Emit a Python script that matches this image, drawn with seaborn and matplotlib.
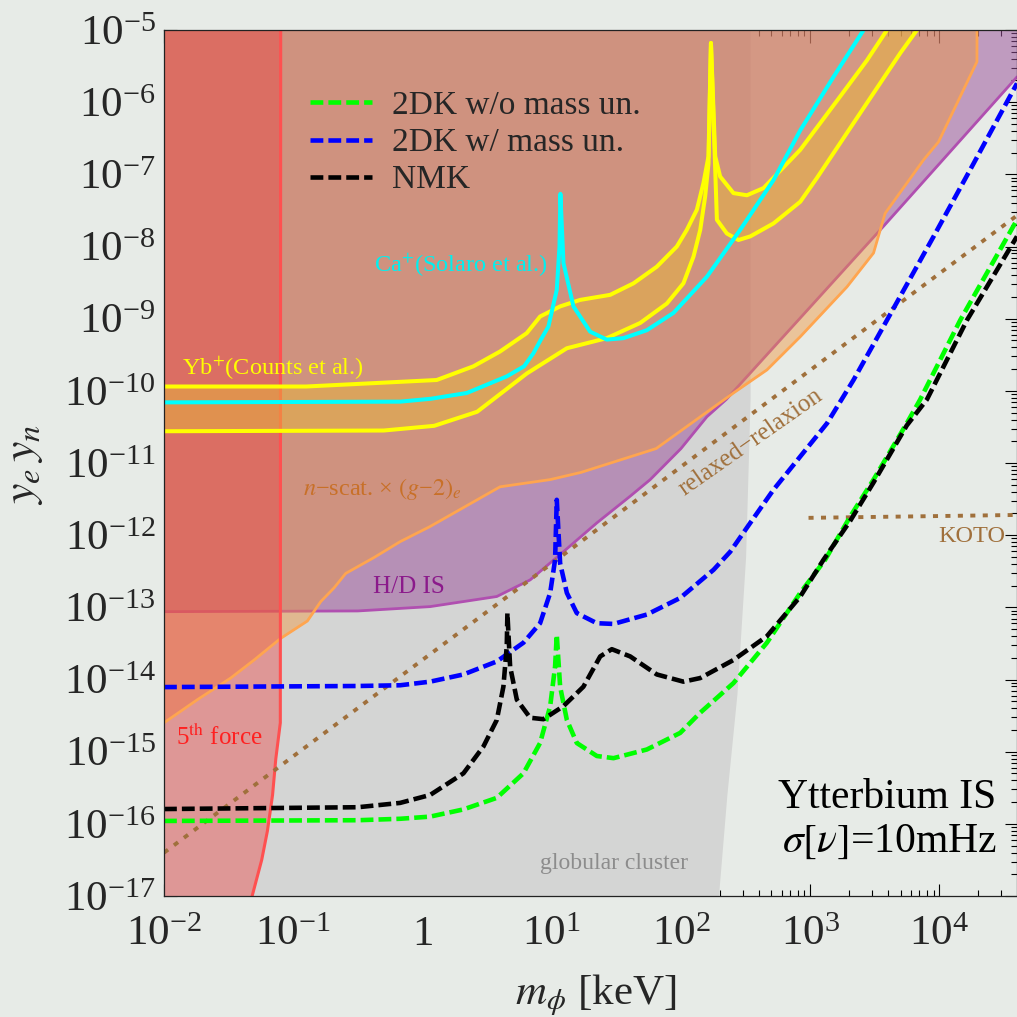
import numpy as np
import pandas as pd
import matplotlib
matplotlib.use("Agg")
import matplotlib.pyplot as plt
import seaborn as sns
from matplotlib.lines import Line2D
from matplotlib.ticker import FixedLocator, FuncFormatter, LogLocator, NullFormatter

# ---------------- data (log10 values) ----------------
# globular cluster boundary (mass as function of coupling)
gc_log_y = [-5.0, -10.1, -12.3, -14.2, -15.6, -17.0]
gc_log_m = [2.535, 2.535, 2.50, 2.433, 2.355, 2.29]

# 5th force boundary
f5_log_y = [-5.0, -14.6, -15.1, -15.6, -16.1, -16.5, -17.0]
f5_log_m = [-1.097, -1.10, -1.135, -1.16, -1.20, -1.244, -1.318]

# H/D isotope shift
hd_log_m = [-2.0, -0.5, 0.059, 0.575, 0.833, 1.09, 1.349, 1.607, 1.762, 2.0, 2.2, 2.35, 3.567, 4.6]
hd_log_y = [-13.06, -13.05, -12.99, -12.85, -12.62, -12.23, -11.83, -11.46, -11.23, -10.8, -10.36,
            -10.12, -7.72, -5.65]

# n-scattering x (g-2)_e
ns_log_m = [-2.0, -1.742, -1.484, -1.303, -1.097, -0.891, -0.787, -0.684, -0.594, -0.375, -0.173,
            0.059, 0.60, 0.988, 1.227, 1.808, 2.406, 2.665, 2.923, 3.284, 3.49, 3.542, 3.58,
            3.877, 3.993, 4.29, 4.291]
ns_log_y = [-14.60, -14.28, -13.98, -13.73, -13.43, -13.19, -12.92, -12.73, -12.53, -12.31, -12.09,
            -11.88, -11.33, -11.23, -11.13, -10.80, -10.03, -9.71, -9.25, -8.56, -8.09, -7.77,
            -7.54, -6.80, -6.55, -5.44, -5.0]

# Yb+ (Counts et al.) band
yu_log_m = [-2.0, -0.9, 0.11, 0.394, 0.60, 0.807, 0.91, 1.065, 1.22, 1.452, 1.633, 1.813, 1.968,
            2.045, 2.123, 2.174, 2.213, 2.232, 2.265, 2.303, 2.406, 2.51, 2.639, 2.923, 3.232,
            3.439, 3.594]
yu_log_y = [-9.94, -9.94, -9.85, -9.66, -9.455, -9.20, -8.97, -8.83, -8.74, -8.67, -8.51, -8.28,
            -8.0, -7.77, -7.49, -7.12, -6.75, -5.18, -6.75, -7.03, -7.26, -7.29, -7.19, -6.66,
            -5.92, -5.42, -5.0]
yl_log_m = [-2.0, -0.3, 0.09, 0.423, 0.807, 1.117, 1.426, 1.684, 1.891, 2.019, 2.097, 2.149, 2.187,
            2.213, 2.232, 2.278, 2.355, 2.445, 2.536, 2.716, 2.923, 3.052, 3.335, 3.697, 3.826]
yl_log_y = [-10.56, -10.55, -10.485, -10.29, -9.76, -9.41, -9.27, -9.06, -8.79, -8.51, -8.14,
            -7.77, -7.31, -6.85, -5.18, -7.63, -7.82, -7.91, -7.86, -7.68, -7.38, -7.05, -6.29,
            -5.32, -5.0]

# Ca+ (Solaro et al.)
cy_log_m = [-2.0, -0.173, 0.064, 0.343, 0.652, 0.786, 0.858, 0.916, 0.974, 1.039, 1.06, 1.067,
            1.091, 1.168, 1.297, 1.426, 1.555, 1.736, 1.942, 2.20, 2.458, 2.716, 2.923, 3.18, 3.413]
cy_log_y = [-10.16, -10.15, -10.11, -10.03, -9.80, -9.66, -9.48, -9.29, -9.11, -8.60, -8.0, -7.27,
            -8.23, -8.83, -9.18, -9.29, -9.27, -9.16, -8.92, -8.42, -7.77, -7.08, -6.39, -5.65, -5.0]

# 2DK w/ mass uncertainty (blue)
bl_log_m = [-2.0, -0.5, -0.173, 0.059, 0.317, 0.575, 0.781, 0.91, 0.988, 1.026, 1.039, 1.065,
            1.117, 1.194, 1.349, 1.478, 1.736, 1.994, 2.252, 2.381, 2.536, 2.716, 2.923, 3.13,
            3.335, 3.594, 3.955, 4.264, 4.6]
bl_log_y = [-14.105, -14.09, -14.08, -14.03, -13.93, -13.75, -13.49, -13.22, -12.80, -12.34,
            -11.51, -12.39, -12.80, -13.08, -13.22, -13.23, -13.10, -12.87, -12.48, -12.23,
            -11.83, -11.37, -10.91, -10.45, -9.85, -9.02, -7.86, -6.85, -5.74]

# 2DK w/o mass uncertainty (green)
gr_log_m = [-2.0, -0.5, -0.173, 0.059, 0.317, 0.575, 0.781, 0.91, 0.988, 1.026, 1.039, 1.065,
            1.117, 1.194, 1.349, 1.478, 1.736, 1.994, 2.149, 2.406, 2.665, 2.923, 3.116, 3.31,
            3.49, 3.747, 3.851, 4.161, 4.6]
gr_log_y = [-15.96, -15.95, -15.93, -15.90, -15.80, -15.64, -15.30, -14.88, -14.37, -13.82,
            -13.38, -14.10, -14.56, -14.88, -15.06, -15.09, -14.97, -14.74, -14.46, -14.05,
            -13.49, -12.80, -12.34, -11.74, -11.23, -10.45, -10.12, -9.02, -7.63]

# NMK (black)
bk_log_m = [-2.0, -0.5, -0.173, 0.059, 0.317, 0.471, 0.575, 0.626, 0.652, 0.657, 0.678, 0.73,
            0.833, 0.936, 1.09, 1.245, 1.375, 1.465, 1.607, 1.813, 2.019, 2.149, 2.406, 2.665,
            2.923, 3.103, 3.31, 3.49, 3.747, 3.903, 4.213, 4.6]
bk_log_y = [-15.795, -15.77, -15.71, -15.60, -15.30, -14.93, -14.56, -14.10, -13.54, -13.08,
            -13.82, -14.28, -14.53, -14.55, -14.37, -14.10, -13.68, -13.58, -13.68, -13.93,
            -14.03, -13.98, -13.73, -13.40, -12.85, -12.34, -11.80, -11.27, -10.48, -10.12,
            -9.02, -7.86]

# relaxed-relaxion and KOTO (dotted)
rx_log_m = [-2.0, 1.039, 4.6]
rx_log_y = [-16.40, -12.34, -7.57]
ko_log_m = [2.987, 4.6]
ko_log_y = [-11.76, -11.72]

x_ticks = [1e-2, 1e-1, 1e0, 1e1, 1e2, 1e3, 1e4]
y_ticks = [10.0 ** e for e in range(-17, -4)]
legend_labels = ["2DK w/o mass un.", "2DK w/ mass un.", "NMK"]

# ---------------- style ----------------
sns.set_theme(style="ticks")
BG = "#e7ebe7"
plt.rcParams["font.family"] = ["Liberation Serif", "DejaVu Serif"]
plt.rcParams["mathtext.fontset"] = "stix"
plt.rcParams["axes.facecolor"] = BG
plt.rcParams["figure.facecolor"] = BG

fig = plt.figure(figsize=(10.17, 10.17), dpi=100)
ax = fig.add_axes([164 / 1017, 1 - 896 / 1017, 853 / 1017, 866 / 1017])
ax.set_xscale("log")
ax.set_yscale("log")
XMIN, XMAX, YMIN, YMAX = 1e-2, 10 ** 4.6, 1e-17, 1e-5
ax.set_xlim(XMIN, XMAX)
ax.set_ylim(YMIN, YMAX)


def p(a):
    return 10.0 ** np.asarray(a, dtype=float)


def curve(lm, ly, **kw):
    df = pd.DataFrame({"m": p(lm), "y": p(ly)})
    sns.lineplot(data=df, x="m", y="y", sort=False, estimator=None, ax=ax, legend=False, **kw)


# fills
ax.fill_betweenx(p(gc_log_y), XMIN, p(gc_log_m), color="#d4d5d4", lw=0, zorder=1)
ax.fill_between(p(hd_log_m), p(hd_log_y), YMAX, color="#9c549c", alpha=0.53, lw=0, zorder=2)
curve(hd_log_m, hd_log_y, color="#b04fb0", linewidth=2.0, zorder=2.5)
ax.fill_between(p(ns_log_m), p(ns_log_y), YMAX, color="#ef963d", alpha=0.45, lw=0, zorder=3)
ax.fill_betweenx(p(f5_log_y), XMIN, p(f5_log_m), color="#ee3a3a", alpha=0.4, lw=0, zorder=4)
curve(ns_log_m, ns_log_y, color="#ffa54f", linewidth=2.0, zorder=5)
curve(f5_log_m, f5_log_y, color="#ff5050", linewidth=2.2, zorder=5)

# Yb band
band_m = np.concatenate([p(yu_log_m), p(yl_log_m)[::-1]])
band_y = np.concatenate([p(yu_log_y), p(yl_log_y)[::-1]])
ax.fill(band_m, band_y, color="#e6b43c", alpha=0.5, lw=0, zorder=6)
curve(yu_log_m, yu_log_y, color="#ffff00", linewidth=2.9, zorder=7)
curve(yl_log_m, yl_log_y, color="#ffff00", linewidth=2.9, zorder=7)
curve(cy_log_m, cy_log_y, color="#00ffff", linewidth=2.9, zorder=7.5)

# dotted
dot = (0, (1.3, 1.9))
curve(rx_log_m, rx_log_y, color="#a0703c", linewidth=2.8, linestyle=dot, zorder=8)
curve(ko_log_m, ko_log_y, color="#a0703c", linewidth=2.8, linestyle=dot, zorder=8)

# dashed projections
dash = (0, (2.8, 1.1))
curve(gr_log_m, gr_log_y, color="#00ff00", linewidth=3.3, linestyle=dash, zorder=9)
curve(bk_log_m, bk_log_y, color="black", linewidth=3.3, linestyle=dash, zorder=9.2)
curve(bl_log_m, bl_log_y, color="#0000ff", linewidth=3.3, linestyle=dash, zorder=9.1)

# ---------------- axes ----------------
def fmt(v, pos):
    e = int(round(np.log10(v)))
    if e == 0:
        return r"$\mathdefault{1}$"
    return r"$\mathdefault{10^{%d}}$" % e


ax.xaxis.set_major_locator(FixedLocator(x_ticks))
ax.yaxis.set_major_locator(FixedLocator(y_ticks))
ax.xaxis.set_major_formatter(FuncFormatter(fmt))
ax.yaxis.set_major_formatter(FuncFormatter(fmt))
ax.xaxis.set_minor_locator(LogLocator(base=10, subs=np.arange(2, 10), numticks=50))
ax.yaxis.set_minor_locator(LogLocator(base=10, subs=np.arange(2, 10), numticks=50))
ax.xaxis.set_minor_formatter(NullFormatter())
ax.yaxis.set_minor_formatter(NullFormatter())
ax.tick_params(which="both", direction="in", top=True, right=True, color="black", width=0.8)
ax.tick_params(which="major", length=9, labelsize=31)
ax.tick_params(axis="y", which="major", pad=6)
ax.tick_params(axis="x", which="major", pad=14)
ax.tick_params(which="minor", length=4.5)
for s in ax.spines.values():
    s.set_color("#222222")
    s.set_linewidth(0.9)
    s.set_zorder(20)
ax.grid(False)

ax.set_ylabel(r"$y_e\, y_n$", fontsize=33)
ax.yaxis.set_label_coords(-0.1395, 0.4977)
ax.set_xlabel(r"$m_\phi$ [keV]", fontsize=31)
ax.xaxis.set_label_coords(0.5065, -0.0885)

# legend
handles = [
    Line2D([], [], color="#00ff00", lw=3.3, linestyle=dash),
    Line2D([], [], color="#0000ff", lw=3.3, linestyle=dash),
    Line2D([], [], color="black", lw=3.3, linestyle=dash),
]
leg = ax.legend(handles, legend_labels, loc="upper left",
                bbox_to_anchor=((310 - 164) / 853, 0.9300), frameon=False,
                fontsize=24, handlelength=1.86, handletextpad=0.6, labelspacing=0.2,
                borderpad=0, borderaxespad=0)
leg.set_zorder(30)

# ---------------- annotations ----------------
def axtext(px, py, s, **kw):
    ax.text((px - 164) / 853, (896 - py) / 866, s, transform=ax.transAxes, zorder=25, **kw)


axtext(272.5, 368, r"Yb$^{+}$(Counts et al.)", color="#ffff00", fontsize=17.5, ha="center", va="center")
axtext(460.5, 265, r"Ca$^{+}$(Solaro et al.)", color="#00f0f0", fontsize=17.5, ha="center", va="center")
axtext(219.5, 737, r"5$^{\mathrm{th}}$ force", color="#ff2020", fontsize=18, ha="center", va="center")
axtext(382.5, 489, r"$n$−scat. × $(g$−$2)_e$", color="#c87028", fontsize=17.5, ha="center", va="center")
axtext(409, 587, "H/D IS", color="#8b1a8b", fontsize=18, ha="center", va="center")
axtext(971.5, 537, "KOTO", color="#a0703c", fontsize=17.5, ha="center", va="center")
axtext(613.5, 864, "globular cluster", color="#8c8c8c", fontsize=17, ha="center", va="center")
axtext(751, 442, "relaxed−relaxion", color="#a0703c", fontsize=18, ha="center", va="center",
       rotation=35, rotation_mode="anchor")
axtext(996, 798, "Ytterbium IS", color="black", fontsize=30, ha="right", va="center")
axtext(997, 842, r"$\sigma[\nu]$=10mHz", color="black", fontsize=30, ha="right", va="center")

fig.savefig("out.png", dpi=100, facecolor=BG)
